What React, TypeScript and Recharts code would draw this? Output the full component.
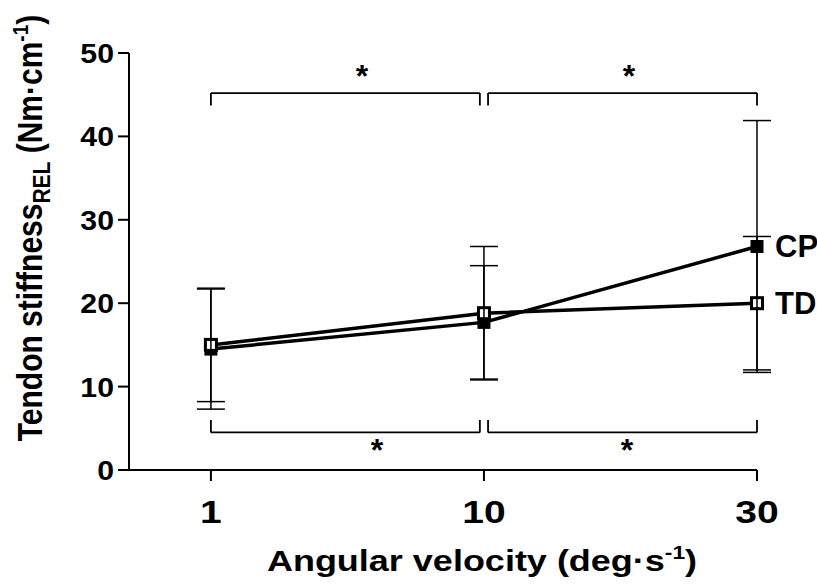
import { ComposedChart, Line, XAxis, YAxis, ErrorBar, ReferenceLine, ReferenceDot, LabelList } from 'recharts'

// angular velocity categories (deg/s)
const velocities = ['1', '10', '30']
const xIndex = [0, 1, 2]

// mean +/- SD
const cpMean = [14.5, 17.7, 26.8]
const cpSd = [7.2, 6.8, 15.1]
const tdMean = [15.0, 18.8, 20.0]
const tdSd = [6.8, 8.0, 8.0]

const yTicks = [0, 10, 20, 30, 40, 50]

// significance brackets: [fromX, toX, lineY, tipY]
const brackets: [number, number, number, number][] = [
  [0, 0.985, 45.2, 43.7],
  [1.015, 2, 45.2, 43.7],
  [0, 0.985, 4.5, 6.0],
  [1.015, 2, 4.5, 6.0],
]
// star marks: [x, y]
const stars: [number, number][] = [
  [0.553, 47.3],
  [1.531, 47.3],
  [0.608, 2.4],
  [1.524, 2.4],
]

const FONT = '"Liberation Sans", Arial, sans-serif'

const data = xIndex.map((x, i) => ({
  x,
  cp: cpMean[i],
  cpErr: cpSd[i],
  td: tdMean[i],
  tdErr: tdSd[i],
}))

const FilledSquare = (props: any) => {
  const { cx, cy, index } = props
  if (cx == null || cy == null) return null
  return <rect key={'cp' + index} x={cx - 6.5} y={cy - 6.5} width={13} height={13} fill="#000" />
}

const OpenSquare = (props: any) => {
  const { cx, cy, index } = props
  if (cx == null || cy == null) return null
  return (
    <g key={'td' + index}>
      <rect x={cx - 5.5} y={cy - 5.5} width={11} height={11} fill="#fff" stroke="#000" strokeWidth={3} />
      <line x1={cx} y1={cy - 5} x2={cx} y2={cy + 5} stroke="#000" strokeWidth={1.5} />
    </g>
  )
}

const endLabel = (text: string) => (props: any) => {
  const { x, y, index } = props
  if (index !== 2) return null
  return (
    <text x={x + 18} y={y} dominantBaseline="central" fontFamily={FONT} fontWeight="bold" fontSize={31} fill="#000">
      {text}
    </text>
  )
}

// tick labels in the original are a little wider than the font
const XTick = (props: any) => {
  const { x, y, payload } = props
  return (
    <text
      transform={`translate(${x}, ${y + 40}) scale(1.22, 1)`}
      textAnchor="middle"
      fontFamily={FONT}
      fontWeight="bold"
      fontSize={32}
      fill="#000"
    >
      {velocities[payload.value]}
    </text>
  )
}

const YTick = (props: any) => {
  const { x, y, payload } = props
  return (
    <text
      transform={`translate(${x - 2}, ${y + 10}) scale(1.08, 1)`}
      textAnchor="end"
      fontFamily={FONT}
      fontWeight="bold"
      fontSize={28}
      fill="#000"
    >
      {payload.value}
    </text>
  )
}

const YTitle = () => (
  <text
    transform="translate(42, 228) scale(1.15, 1) rotate(-90)"
    textAnchor="middle"
    fontFamily={FONT}
    fontWeight="bold"
    fontSize={30}
    fill="#000"
  >
    Tendon stiffness
    <tspan fontSize={21} dy={7}>REL</tspan>
    <tspan dy={-7}> (Nm·cm</tspan>
    <tspan fontSize={19} dy={-12}>-1</tspan>
    <tspan dy={12}>)</tspan>
  </text>
)

const XTitle = () => (
  <text
    transform="translate(482, 571) scale(1.2, 1)"
    textAnchor="middle"
    fontFamily={FONT}
    fontWeight="bold"
    fontSize={30}
    fill="#000"
  >
    Angular velocity (deg·s
    <tspan fontSize={19} dy={-12}>-1</tspan>
    <tspan dy={12}>)</tspan>
  </text>
)

const Star = (props: any) => {
  const { cx, cy } = props
  return (
    <text x={cx} y={cy} textAnchor="middle" dominantBaseline="central" fontFamily={FONT} fontWeight="bold" fontSize={32} fill="#000">
      *
    </text>
  )
}

export default function App() {
  return (
    <div style={{ position: 'absolute', left: 0, top: 0, background: '#fff' }}>
      <ComposedChart width={817} height={585} data={data} margin={{ top: 53, right: 60, bottom: 0, left: 0 }}>
        <XAxis
          dataKey="x"
          type="number"
          domain={[-0.3, 2]}
          ticks={xIndex}
          height={115}
          axisLine={{ stroke: '#000', strokeWidth: 2 }}
          tickLine={{ stroke: '#000', strokeWidth: 2 }}
          tickSize={11}
          tick={<XTick />}
          label={<XTitle />}
        />
        <YAxis
          type="number"
          domain={[0, 50]}
          ticks={yTicks}
          width={129}
          axisLine={{ stroke: '#000', strokeWidth: 2 }}
          tickLine={{ stroke: '#000', strokeWidth: 2 }}
          tickSize={11}
          tick={<YTick />}
          label={<YTitle />}
        />

        {brackets.map(([x1, x2, y, tip], i) => [
          <ReferenceLine key={'h' + i} segment={[{ x: x1, y }, { x: x2, y }]} stroke="#000" strokeWidth={1.8} ifOverflow="visible" />,
          <ReferenceLine key={'l' + i} segment={[{ x: x1, y }, { x: x1, y: tip }]} stroke="#000" strokeWidth={1.8} ifOverflow="visible" />,
          <ReferenceLine key={'r' + i} segment={[{ x: x2, y }, { x: x2, y: tip }]} stroke="#000" strokeWidth={1.8} ifOverflow="visible" />,
        ])}
        {stars.map(([x, y], i) => (
          <ReferenceDot key={'s' + i} x={x} y={y} r={0} shape={<Star />} ifOverflow="visible" />
        ))}

        <Line
          dataKey="cp"
          stroke="#000"
          strokeWidth={3.5}
          dot={FilledSquare}
          activeDot={false}
          isAnimationActive={false}
        >
          <ErrorBar dataKey="cpErr" direction="y" width={14} stroke="#000" strokeWidth={1.5} />
          <LabelList dataKey="cp" content={endLabel('CP')} />
        </Line>
        <Line
          dataKey="td"
          stroke="#000"
          strokeWidth={3.5}
          dot={OpenSquare}
          activeDot={false}
          isAnimationActive={false}
        >
          <ErrorBar dataKey="tdErr" direction="y" width={14} stroke="#000" strokeWidth={1.5} />
          <LabelList dataKey="td" content={endLabel('TD')} />
        </Line>
      </ComposedChart>
    </div>
  )
}
